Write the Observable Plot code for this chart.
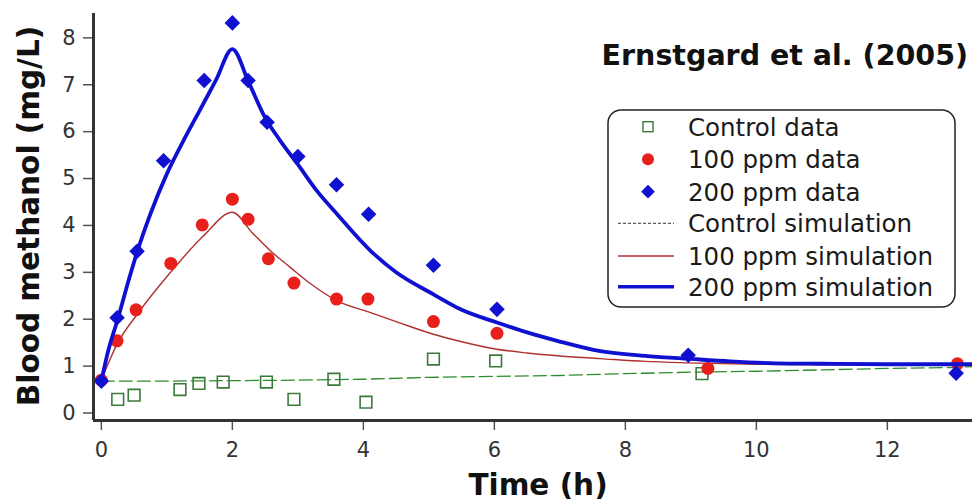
<!DOCTYPE html>
<html>
<head>
<meta charset="utf-8">
<script src="https://cdn.jsdelivr.net/npm/d3@7"></script>
<script src="https://cdn.jsdelivr.net/npm/@observablehq/plot@0.6"></script>
<style>
  html, body { margin: 0; padding: 0; background: #fff; }
  #chart { width: 972px; height: 501px; }
</style>
</head>
<body>
<div id="chart"></div>
<script>
// ---- Data ----
const titleText = "Ernstgard et al. (2005)";
const xLabel = "Time (h)";
const yLabel = "Blood methanol (mg/L)";
const xTicks = [0, 2, 4, 6, 8, 10, 12];
const yTicks = [0, 1, 2, 3, 4, 5, 6, 7, 8];

// Control data (open squares)
const controlT = [0.25, 0.5, 1.2, 1.49, 1.86, 2.52, 2.94, 3.55, 4.04, 5.07, 6.02, 9.17];
const controlY = [0.29, 0.38, 0.5, 0.63, 0.66, 0.66, 0.29, 0.72, 0.23, 1.15, 1.11, 0.84];

// 100 ppm data (filled circles)
const ppm100T = [0, 0.24, 0.53, 1.06, 1.54, 2.0, 2.24, 2.55, 2.94, 3.59, 4.07, 5.07, 6.04, 9.26, 13.07];
const ppm100Y = [0.7, 1.54, 2.2, 3.19, 4.01, 4.56, 4.13, 3.29, 2.77, 2.43, 2.43, 1.95, 1.70, 0.95, 1.05];

// 200 ppm data (filled diamonds)
const ppm200T = [0, 0.24, 0.545, 0.95, 1.57, 2.0, 2.24, 2.53, 3.0, 3.59, 4.08, 5.07, 6.04, 8.96, 13.05];
const ppm200Y = [0.68, 2.03, 3.45, 5.38, 7.09, 8.32, 7.09, 6.2, 5.47, 4.87, 4.24, 3.15, 2.21, 1.23, 0.85];

// Control simulation (dashed green)
const simCtrlT = [0, 1, 2, 3, 4, 5, 6, 7, 8, 9, 10, 11, 12, 13, 13.3];
const simCtrlY = [0.68, 0.68, 0.69, 0.7, 0.72, 0.76, 0.78, 0.8, 0.84, 0.87, 0.89, 0.92, 0.95, 0.97, 0.99];

// 100 ppm simulation (thin red)
const sim100T = [0, 0.24, 0.545, 1.05, 1.56, 2.0, 2.3, 2.58, 2.89, 3.2, 3.6, 4.11, 4.5, 5.07, 5.5, 6.04, 6.5, 6.96, 7.62, 8.3, 8.94, 10, 11, 12, 13.3];
const sim100Y = [0.7, 1.47, 2.1, 2.99, 3.78, 4.28, 3.85, 3.46, 3.1, 2.75, 2.39, 2.14, 1.95, 1.68, 1.52, 1.36, 1.28, 1.22, 1.16, 1.1, 1.07, 1.04, 1.03, 1.03, 1.03];

// 200 ppm simulation (thick blue)
const sim200T = [0, 0.1, 0.25, 0.4, 0.55, 0.75, 1.0, 1.25, 1.5, 1.75, 2.0, 2.25, 2.5, 2.73, 3.0, 3.3, 3.6, 4.11, 4.5, 5.07, 5.5, 6.04, 6.5, 6.96, 7.62, 8.3, 8.94, 9.6, 10.3, 11, 12, 13.3];
const sim200Y = [0.68, 1.3, 2.0, 2.75, 3.45, 4.25, 5.1, 5.8, 6.45, 7.1, 7.76, 7.05, 6.3, 5.81, 5.3, 4.72, 4.24, 3.46, 3.0, 2.53, 2.2, 1.93, 1.72, 1.54, 1.32, 1.22, 1.16, 1.1, 1.06, 1.05, 1.04, 1.04];

const legendLabels = ["Control data", "100 ppm data", "200 ppm data", "Control simulation", "100 ppm simulation", "200 ppm simulation"];

// ---- Build tables ----
const zip = (ts, ys) => ts.map((t, i) => ({t, y: ys[i]}));
const ctrlData = zip(controlT, controlY);
const d100 = zip(ppm100T, ppm100Y);
const d200 = zip(ppm200T, ppm200Y);
const sCtrl = zip(simCtrlT, simCtrlY);
const s100 = zip(sim100T, sim100Y);
const s200 = zip(sim200T, sim200Y);

const BLUE = "#1010d0", RED = "#e8201c", GREEN = "#3a7a3a", REDLINE = "#b03030", GREENLINE = "#2e8b2e";
const xMin = -0.12, xMax = 13.3, yMin = -0.16, yMax = 8.52;

const plot = Plot.plot({
  width: 972,
  height: 501,
  marginLeft: 93,
  marginRight: 0,
  marginTop: 13,
  marginBottom: 81,
  style: {fontFamily: "DejaVu Sans", background: "#fff", overflow: "visible"},
  x: {domain: [xMin, xMax]},
  y: {domain: [yMin, yMax]},
  marks: [
    Plot.axisX(xTicks, {tickSize: 10, tickPadding: 12, fontSize: 21, stroke: "#555", strokeWidth: 1.5, color: "#333", label: null}),
    Plot.axisY(yTicks, {tickSize: 10, tickPadding: 8, fontSize: 21, stroke: "#555", strokeWidth: 1.5, color: "#333", label: null}),
    Plot.line(sCtrl, {x: "t", y: "y", stroke: GREENLINE, strokeWidth: 1.3, strokeDasharray: "13,5"}),
    Plot.line(s100, {x: "t", y: "y", stroke: REDLINE, strokeWidth: 1.4, curve: "monotone-x"}),
    Plot.dot(ctrlData, {x: "t", y: "y", symbol: "square", r: 6.6, fill: "none", stroke: GREEN, strokeWidth: 1.6}),
    Plot.dot(d100, {x: "t", y: "y", symbol: "circle", r: 6.5, fill: RED, stroke: "none"}),
    Plot.line(s200, {x: "t", y: "y", stroke: BLUE, strokeWidth: 3.8, curve: "monotone-x"}),
    Plot.dot(d200, {x: "t", y: "y", symbol: "diamond2", r: 7, fill: BLUE, stroke: "none"}),
    Plot.ruleX([xMin], {stroke: "#333", strokeWidth: 3}),
    Plot.ruleY([yMin], {stroke: "#333", strokeWidth: 3})
  ]
});

document.getElementById("chart").appendChild(plot);

// ---- Titles, axis labels, legend (added to the Plot SVG) ----
const svg = d3.select(plot);

svg.append("text")
  .attr("x", 968).attr("y", 65)
  .attr("text-anchor", "end")
  .attr("font-family", "DejaVu Sans").attr("font-weight", "bold").attr("font-size", 28.5)
  .attr("fill", "#111")
  .text(titleText);

svg.append("text")
  .attr("transform", "translate(39,216) rotate(-90)")
  .attr("text-anchor", "middle")
  .attr("font-family", "DejaVu Sans").attr("font-weight", "bold").attr("font-size", 29.5)
  .attr("fill", "#111")
  .text(yLabel);

svg.append("text")
  .attr("x", 538).attr("y", 495)
  .attr("text-anchor", "middle")
  .attr("font-family", "DejaVu Sans").attr("font-weight", "bold").attr("font-size", 29.5)
  .attr("fill", "#111")
  .text(xLabel);

const lg = svg.append("g");
lg.append("rect")
  .attr("x", 608).attr("y", 110).attr("width", 347).attr("height", 197)
  .attr("rx", 13).attr("ry", 13)
  .attr("fill", "#fff").attr("stroke", "#222").attr("stroke-width", 1.5);

const rowY = [126.7, 159.3, 191.7, 223.3, 256, 286.7];
const symX = 648;
legendLabels.forEach((lab, i) => {
  lg.append("text")
    .attr("x", 688).attr("y", rowY[i])
    .attr("dy", "0.36em")
    .attr("text-anchor", "start")
    .attr("font-family", "DejaVu Sans").attr("font-size", 24.5)
    .attr("fill", "#1a1a1a")
    .text(lab);
});
// symbols
lg.append("rect").attr("x", symX - 5).attr("y", rowY[0] - 5).attr("width", 10).attr("height", 10)
  .attr("fill", "none").attr("stroke", GREEN).attr("stroke-width", 1.4);
lg.append("circle").attr("cx", symX).attr("cy", rowY[1]).attr("r", 6).attr("fill", RED);
lg.append("path").attr("d", d3.symbol(d3.symbolDiamond2, 120)()).attr("transform", `translate(${symX},${rowY[2]})`).attr("fill", BLUE);
lg.append("line").attr("x1", 618).attr("x2", 674).attr("y1", rowY[3]).attr("y2", rowY[3])
  .attr("stroke", "#333").attr("stroke-width", 1).attr("stroke-dasharray", "3,2");
lg.append("line").attr("x1", 618).attr("x2", 674).attr("y1", rowY[4]).attr("y2", rowY[4])
  .attr("stroke", REDLINE).attr("stroke-width", 1.4);
lg.append("line").attr("x1", 618).attr("x2", 674).attr("y1", rowY[5]).attr("y2", rowY[5])
  .attr("stroke", BLUE).attr("stroke-width", 3.5);
</script>
</body>
</html>
